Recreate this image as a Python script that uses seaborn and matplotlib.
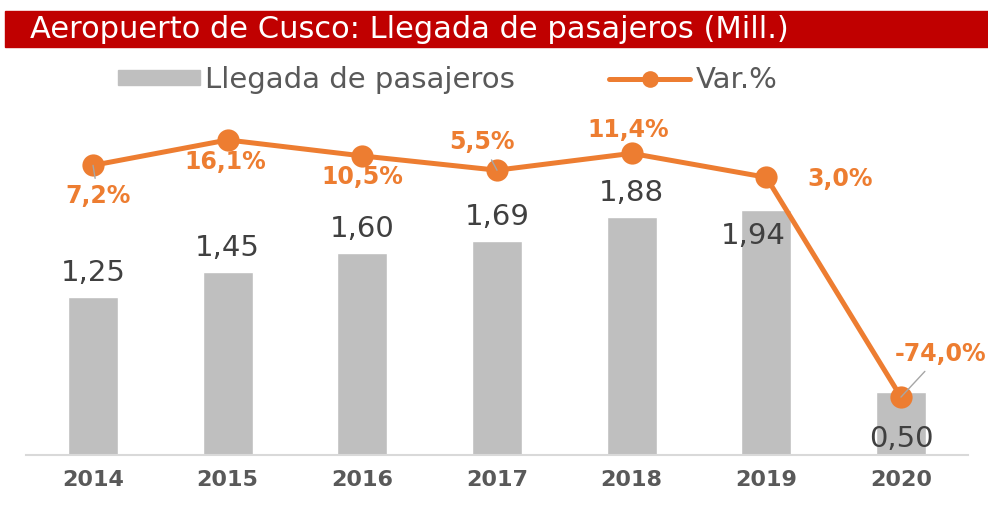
import numpy as np
import pandas as pd
import matplotlib
matplotlib.use('Agg')
import matplotlib.pyplot as plt
import seaborn as sns
from matplotlib.lines import Line2D
from matplotlib.patches import Patch, Rectangle

# data
years = ['2014', '2015', '2016', '2017', '2018', '2019', '2020']
pasajeros = [1.25, 1.45, 1.60, 1.69, 1.88, 1.94, 0.50]
variacion = [7.2, 16.1, 10.5, 5.5, 11.4, 3.0, -74.0]

GRAY = '#BFBFBF'
ORANGE = '#ED7D31'
RED = '#C00000'
DARK = '#404040'
PX = 0.72  # pixels -> points at dpi 100

# label offsets in pixels (x right, y up)
bar_offsets = {5: (-13, -26), 6: (0, -47)}
var_offsets = [(5, -31), (-2, -22), (0, -21), (-15, 28), (-3, 23), (74, -2), (40, 43)]
leader = {0, 3, 6}

sns.set_theme(style='white')
plt.rcParams['font.family'] = ['DejaVu Sans']

df = pd.DataFrame({'anio': years, 'pasajeros': pasajeros, 'var': variacion})

fig = plt.figure(figsize=(9.88, 5.11), dpi=100)

# title bar
fig.patches.append(Rectangle((5 / 988, 1 - 47 / 511), 983 / 988, 36 / 511,
                             transform=fig.transFigure, color=RED, zorder=0))
fig.text(30 / 988, 1 - 29 / 511, 'Aeropuerto de Cusco: Llegada de pasajeros (Mill.)',
         color='white', fontsize=22, ha='left', va='center')

ax = fig.add_axes([25.7 / 988, 56 / 511, 942.6 / 988, 355 / 511])
sns.barplot(data=df, x='anio', y='pasajeros', color=GRAY, width=0.37,
            saturation=1, ax=ax)
ax.set_ylim(0, 2.809)
ax.set_xlim(-0.5, 6.5)
ax.set_xlabel('')
ax.set_ylabel('')
ax.set_yticks([])
for s in ['top', 'right', 'left']:
    ax.spines[s].set_visible(False)
ax.spines['bottom'].set_color('#D9D9D9')
ax.spines['bottom'].set_linewidth(1.5)
ax.tick_params(axis='x', length=0, pad=11, labelsize=16, labelcolor='#595959')
for lab in ax.get_xticklabels():
    lab.set_fontweight('bold')

for i, v in enumerate(pasajeros):
    dx, dy = bar_offsets.get(i, (0, 24))
    ax.annotate(f'{v:.2f}'.replace('.', ','), xy=(i, v), xytext=(dx * PX, dy * PX),
                textcoords='offset points', ha='center', va='center',
                fontsize=21, color=DARK)

ax2 = ax.twinx()
sns.lineplot(x=np.arange(len(years)), y=df['var'], color=ORANGE, lw=3.6,
             marker='o', markersize=16, markeredgewidth=0, ax=ax2)
ax2.set_ylim(-94.3, 30.1)
ax2.set_xlim(-0.5, 6.5)
ax2.set_ylabel('')
ax2.set_yticks([])
for s in ax2.spines.values():
    s.set_visible(False)

for i, v in enumerate(variacion):
    dx, dy = var_offsets[i]
    arrow = dict(arrowstyle='-', color='#A6A6A6', lw=1, shrinkA=2, shrinkB=0) if i in leader else None
    ax2.annotate(f'{v:.1f}'.replace('.', ',') + '%', xy=(i, v),
                 xytext=(dx * PX, dy * PX), textcoords='offset points',
                 ha='center', va='center', fontsize=17, fontweight='bold',
                 color=ORANGE, arrowprops=arrow)

handles = [Patch(color=GRAY, label='Llegada de pasajeros'),
           Line2D([0], [0], color=ORANGE, lw=3.6, marker='o', markersize=12,
                  markeredgewidth=0, label='Var.%')]
fig.legend(handles=handles, loc='center', bbox_to_anchor=(448 / 988, 1 - 80 / 511),
           ncol=2, frameon=False, fontsize=21, handlelength=2.8, handleheight=0.45,
           handletextpad=0.2, columnspacing=3.2, labelcolor='#595959')

fig.savefig('out.png', dpi=100)
